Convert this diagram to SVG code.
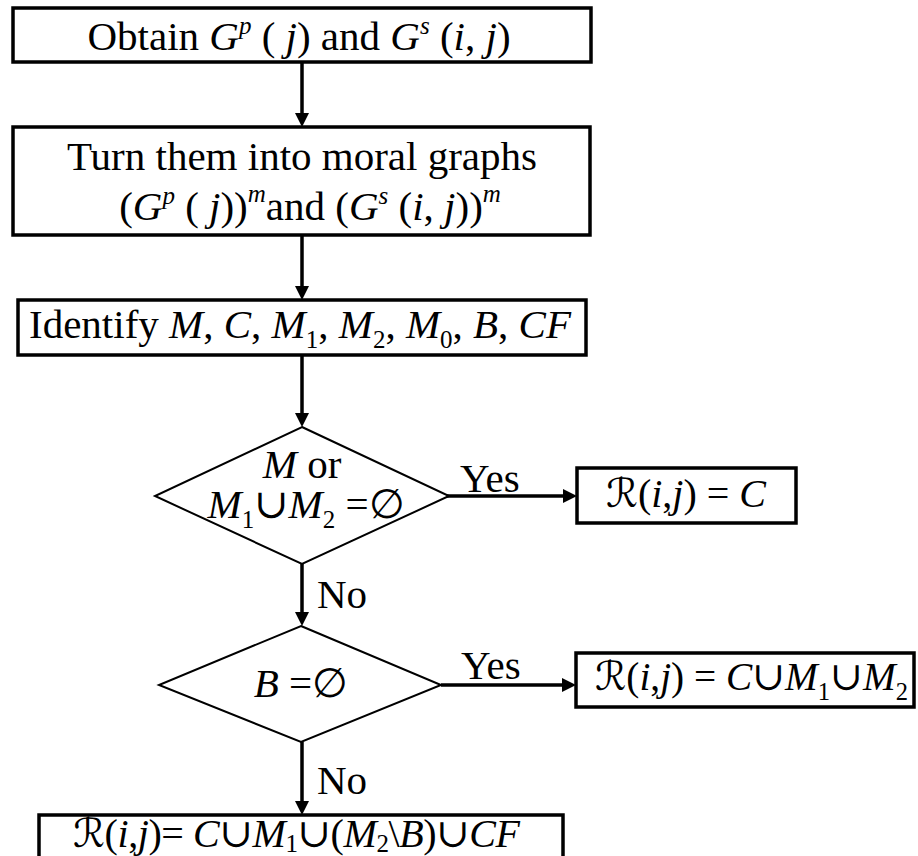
<svg xmlns="http://www.w3.org/2000/svg" width="918" height="856" viewBox="0 0 918 856">
<style>
  .box { fill: #fff; stroke: #000; stroke-width: 3.5; }
  .dia { fill: #fff; stroke: #000; stroke-width: 2; }
  .t { font-family: "Liberation Serif", "DejaVu Serif", serif; font-size: 41px; fill: #000; }
  .f { font-family: "Liberation Serif", "DejaVu Serif", serif; font-size: 40px; fill: #000; }
  .i { font-style: italic; }
  .sm { font-size: 25px; }
  .sc { font-family: "DejaVu Serif", "DejaVu Sans", serif; font-style: italic; }
  .edge { stroke: #000; stroke-width: 3.5; fill: none; marker-end: url(#arr); }
</style>
<defs>
  <marker id="arr" viewBox="0 0 10 10" markerWidth="14" markerHeight="14" refX="4.3" refY="5" orient="auto" markerUnits="userSpaceOnUse">
    <path d="M0,0 L10,5 L0,10 z" fill="#000"/>
  </marker>
</defs>

<g id="connectors">
  <line class="edge" x1="302" y1="62" x2="302" y2="119"/>
  <line class="edge" x1="302" y1="235" x2="302" y2="292"/>
  <line class="edge" x1="302" y1="355" x2="302" y2="419"/>
  <line class="edge" x1="447" y1="496" x2="569" y2="496"/>
  <line class="edge" x1="302" y1="564" x2="302" y2="618"/>
  <line class="edge" x1="441" y1="685" x2="568" y2="685"/>
  <line class="edge" x1="302" y1="742" x2="302" y2="807"/>
  <text class="t" x="460" y="492">Yes</text>
  <text class="t" x="317" y="608">No</text>
  <text class="t" x="461" y="679">Yes</text>
  <text class="t" x="317" y="794">No</text>
</g>

<g id="obtain">
  <rect class="box" x="13" y="8" width="578" height="54"/>
  <text class="t" x="299" y="50" text-anchor="middle">Obtain <tspan class="i">G</tspan><tspan class="i sm" dy="-16">p</tspan><tspan dy="16"> ( </tspan><tspan class="i">j</tspan>) and <tspan class="i">G</tspan><tspan class="i sm" dy="-16">s</tspan><tspan dy="16"> (</tspan><tspan class="i">i</tspan>, <tspan class="i">j</tspan>)</text>
</g>

<g id="moral">
  <rect class="box" x="13" y="127" width="577" height="108"/>
  <text class="t" x="302" y="170" text-anchor="middle">Turn them into moral graphs</text>
  <text class="t" x="310" y="220" text-anchor="middle">(<tspan class="i">G</tspan><tspan class="i sm" dy="-16">p</tspan><tspan dy="16"> ( </tspan><tspan class="i">j</tspan>))<tspan class="i sm" dy="-18">m</tspan><tspan dy="18">and (</tspan><tspan class="i">G</tspan><tspan class="i sm" dy="-16">s</tspan><tspan dy="16"> (</tspan><tspan class="i">i</tspan>, <tspan class="i">j</tspan>))<tspan class="i sm" dy="-18">m</tspan></text>
</g>

<g id="identify">
  <rect class="box" x="18" y="300" width="568" height="55"/>
  <text class="t" x="300" y="338" text-anchor="middle">Identify <tspan class="i">M</tspan>, <tspan class="i">C</tspan>, <tspan class="i">M</tspan><tspan class="sm" dy="10">1</tspan><tspan dy="-10">, </tspan><tspan class="i">M</tspan><tspan class="sm" dy="10">2</tspan><tspan dy="-10">, </tspan><tspan class="i">M</tspan><tspan class="sm" dy="10">0</tspan><tspan dy="-10">, </tspan><tspan class="i">B</tspan>, <tspan class="i">CF</tspan></text>
</g>

<g id="decision1">
  <polygon class="dia" points="302,427 449,496 302,564 155,496"/>
  <text class="t" x="302" y="478" text-anchor="middle"><tspan class="i">M</tspan> or</text>
  <text class="t" x="306" y="518" text-anchor="middle"><tspan class="i">M</tspan><tspan class="sm" dy="10">1</tspan><tspan dy="-10">∪</tspan><tspan class="i">M</tspan><tspan class="sm" dy="10">2</tspan><tspan dy="-10"> =∅</tspan></text>
</g>

<g id="result1">
  <rect class="box" x="577" y="468" width="219" height="55"/>
  <text class="f" x="686" y="507" text-anchor="middle"><tspan class="sc">ℛ</tspan>(<tspan class="i">i</tspan>,<tspan class="i">j</tspan>) = <tspan class="i">C</tspan></text>
</g>

<g id="decision2">
  <polygon class="dia" points="301,626 441,685 301,742 159,685"/>
  <text class="t" x="301" y="697" text-anchor="middle"><tspan class="i">B</tspan> =∅</text>
</g>

<g id="result2">
  <rect class="box" x="576" y="653" width="338" height="54"/>
  <text class="f" x="595" y="690" textLength="313" lengthAdjust="spacingAndGlyphs"><tspan class="sc">ℛ</tspan>(<tspan class="i">i</tspan>,<tspan class="i">j</tspan>) = <tspan class="i">C</tspan>∪<tspan class="i">M</tspan><tspan class="sm" dy="10">1</tspan><tspan dy="-10">∪</tspan><tspan class="i">M</tspan><tspan class="sm" dy="10">2</tspan></text>
</g>

<g id="result3">
  <rect class="box" x="39" y="815" width="524" height="60"/>
  <text class="f" x="73" y="847" textLength="447" lengthAdjust="spacing"><tspan class="sc">ℛ</tspan>(<tspan class="i">i</tspan>,<tspan class="i">j</tspan>)= <tspan class="i">C</tspan>∪<tspan class="i">M</tspan><tspan class="sm" dy="5">1</tspan><tspan dy="-5">∪(</tspan><tspan class="i">M</tspan><tspan class="sm" dy="5">2</tspan><tspan dy="-5">\</tspan><tspan class="i">B</tspan>)∪<tspan class="i">CF</tspan></text>
</g>
</svg>
